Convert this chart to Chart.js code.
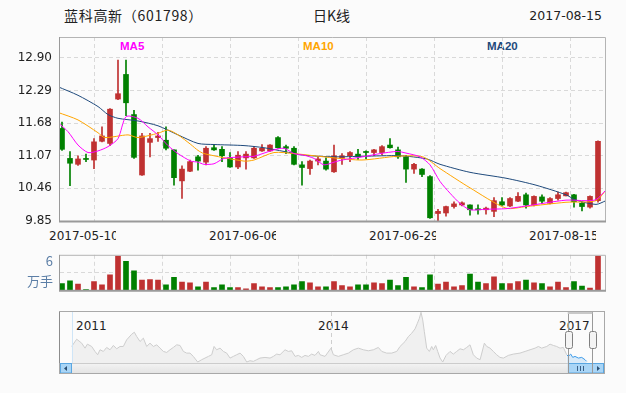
<!DOCTYPE html>
<html><head><meta charset="utf-8">
<script src="https://cdn.jsdelivr.net/npm/chart.js@4.4.0/dist/chart.umd.min.js"></script>
<style>
html,body{margin:0;padding:0;background:#fbfbfb;width:626px;height:393px;overflow:hidden;}
canvas{position:absolute;left:0;}
.t{position:absolute;white-space:nowrap;color:#222;}
.xl{position:absolute;white-space:nowrap;overflow:hidden;width:67px;top:229px;line-height:14px;font:12px "DejaVu Sans";color:#222;}
.ma{position:absolute;top:40px;line-height:13px;font:bold 11.5px "Liberation Sans";}
.yr{position:absolute;top:319px;line-height:14px;font:12px "DejaVu Sans";color:#222;}
</style></head><body>
<div class="t" style="left:64px;top:5px;line-height:20px;font:14px 'Noto Sans CJK SC';letter-spacing:0.7px;">蓝科高新（601798）</div>
<div class="t" style="left:313px;top:5px;line-height:20px;font:14px 'Noto Sans CJK SC';">日K线</div>
<div class="t" style="right:24px;top:8px;line-height:16px;font:12.5px 'DejaVu Sans';">2017-08-15</div>
<div class="ma" style="left:120px;color:#ff00ff">MA5</div>
<div class="ma" style="left:303px;color:#ffa500">MA10</div>
<div class="ma" style="left:487px;color:#1f4a7c">MA20</div>
<div id="xlabels"></div>
<div id="ylabels"></div>
<canvas id="main" width="626" height="245" style="top:0"></canvas>
<canvas id="vol" width="626" height="65" style="top:240px"></canvas>
<canvas id="nav" width="626" height="88" style="top:305px"></canvas>
<script>
// ---------------- data ----------------
const candleOpen  = [11.58,11.02,10.91,11.02,10.99,11.34,11.30,12.13,12.59,11.84,10.71,11.32,11.41,11.36,11.18,10.60,10.78,11.05,10.95,11.22,11.19,11.03,10.86,11.03,11.03,11.16,11.16,11.41,11.24,11.21,10.90,10.83,10.97,10.97,10.77,11.02,11.07,11.10,11.15,11.13,11.13,11.27,11.18,11.05,10.82,10.82,10.68,9.99,10.00,10.12,10.15,10.15,10.07,10.06,10.03,10.21,10.13,10.22,10.34,10.15,10.30,10.18,10.27,10.32,10.34,10.18,10.11,10.23];
const candleClose = [11.19,10.93,11.01,11.00,11.33,11.44,11.94,12.23,12.06,11.04,11.44,11.39,11.44,11.21,10.66,10.82,10.96,10.97,11.21,11.18,11.07,10.86,11.08,11.10,11.21,11.21,11.27,11.22,11.21,10.91,10.85,10.97,11.01,10.82,11.07,11.07,11.13,11.05,11.13,11.18,11.24,11.22,11.05,10.82,10.91,10.72,9.91,10.03,10.12,10.17,10.19,10.06,10.06,10.09,10.23,10.15,10.27,10.31,10.15,10.31,10.22,10.27,10.34,10.38,10.21,10.12,10.31,11.34];
const candleHigh  = [11.70,11.15,11.07,11.10,11.39,11.61,11.95,12.86,12.86,11.92,11.49,11.49,11.51,11.61,11.18,10.88,10.99,11.08,11.24,11.28,11.24,11.13,11.15,11.15,11.24,11.28,11.28,11.43,11.27,11.24,10.96,10.99,11.05,11.03,11.27,11.11,11.15,11.19,11.16,11.19,11.26,11.39,11.23,11.08,10.93,10.83,10.70,10.07,10.13,10.21,10.21,10.15,10.15,10.11,10.29,10.29,10.29,10.38,10.37,10.32,10.34,10.29,10.39,10.39,10.35,10.21,10.32,11.35];
const candleLow   = [11.17,10.51,10.89,10.96,10.83,11.33,11.26,12.12,11.82,11.02,10.70,11.05,11.34,11.18,10.52,10.27,10.77,10.80,10.90,11.17,10.96,10.85,10.83,10.82,11.02,11.15,11.15,11.21,11.11,10.90,10.52,10.72,10.90,10.80,10.76,10.91,10.96,11.00,11.01,11.07,11.08,11.21,11.02,10.57,10.74,10.68,9.90,9.85,9.94,10.09,10.13,9.96,9.98,9.98,9.93,10.14,10.12,10.21,10.09,10.13,10.18,10.17,10.24,10.32,10.11,10.04,10.09,10.20];
// volume in 万手
const volume = [1.39,1.95,1.26,0.14,1.81,1.12,3.21,7.11,6.00,4.04,2.09,2.23,2.09,1.12,2.65,1.67,1.53,0.70,1.67,0.56,1.12,0.56,0.56,0.28,1.39,0.70,0.56,0.56,0.70,1.12,1.81,1.53,0.70,0.70,1.81,0.98,0.70,1.12,1.12,1.53,1.39,2.09,0.98,2.65,0.70,0.56,3.21,1.26,1.67,0.70,0.98,3.35,1.67,1.39,2.79,1.39,1.39,1.81,2.09,1.53,1.39,0.70,1.67,0.56,1.81,0.84,0.42,7.11];
// moving averages (candle index -> price)
const ma5Idx  = [-0.5,0.75,2,3.25,4.5,5.75,7,8,9.5,10.75,12,13.25,14.5,16.1,17,17.75,19,20.25,22.75,24,26.5,27.75,29,30.25,31.5,32.75,34,35,37.6,39.75,41.9,43,44.75,46,47.25,48.5,49.75,51,53,55.5,58,63,65.5,66.75,68];
const ma5     = [11.69,11.52,11.27,11.13,11.16,11.24,11.39,11.80,11.77,11.61,11.46,11.26,11.11,10.97,10.95,10.91,10.92,11.02,11.05,11.06,11.18,11.21,11.11,11.08,11.02,10.90,10.95,10.99,11.05,11.11,11.15,11.12,11.05,10.90,10.59,10.37,10.18,10.06,10.07,10.08,10.13,10.24,10.23,10.25,10.43];
const ma10Idx = [-0.5,2,4.5,5.33,8.25,9.5,12,13.25,14.5,16.1,17,17.75,22.75,24,26.5,29,31.5,34,37.5,41.9,45.1,47.25,51,55.5,58,63,66.75,68];
const ma10    = [11.88,11.74,11.50,11.41,11.46,11.41,11.49,11.55,11.46,11.28,11.17,11.11,10.97,10.99,11.13,11.11,11.07,11.03,10.99,11.06,11.05,10.83,10.47,10.09,10.12,10.20,10.23,10.43];
const ma20Idx = [-0.5,2,4.5,5.75,7,9.5,12,14.5,17,19,22.75,25.25,27.75,30.25,34,37.6,42.25,45.6,47.25,51,55.5,59.25,63,64.25,66.75,68];
const ma20    = [12.36,12.20,11.99,11.84,11.77,11.72,11.63,11.46,11.30,11.28,11.26,11.22,11.15,11.08,11.05,11.06,11.07,11.01,10.91,10.76,10.65,10.52,10.34,10.24,10.16,10.23];
const priceTicks = [9.85,10.46,11.07,11.68,12.29,12.90];
const dateLabels = ['2017-05-10','2017-06-06','2017-06-29','2017-08-15'];
// navigator: long history (year -> price)
const navYear  = [2010.798,2010.860,2010.922,2010.963,2010.992,2011.045,2011.086,2011.119,2011.148,2011.189,2011.230,2011.272,2011.313,2011.354,2011.395,2011.436,2011.477,2011.539,2011.572,2011.601,2011.642,2011.683,2011.724,2011.765,2011.807,2011.848,2011.889,2011.930,2011.971,2012.012,2012.053,2012.095,2012.136,2012.177,2012.218,2012.259,2012.300,2012.354,2012.403,2012.444,2012.486,2012.527,2012.556,2012.588,2012.630,2012.671,2012.712,2012.753,2012.794,2012.835,2012.877,2012.918,2012.959,2013.000,2013.041,2013.082,2013.123,2013.185,2013.247,2013.288,2013.329,2013.370,2013.432,2013.473,2013.514,2013.556,2013.597,2013.638,2013.679,2013.720,2013.761,2013.802,2013.844,2013.864,2013.926,2014.000,2014.029,2014.090,2014.152,2014.214,2014.276,2014.337,2014.399,2014.461,2014.523,2014.584,2014.626,2014.687,2014.749,2014.811,2014.852,2014.914,2014.955,2014.996,2015.037,2015.066,2015.091,2015.111,2015.132,2015.152,2015.181,2015.214,2015.243,2015.263,2015.292,2015.317,2015.346,2015.379,2015.420,2015.469,2015.510,2015.551,2015.593,2015.634,2015.675,2015.716,2015.757,2015.798,2015.840,2015.893,2015.922,2015.963,2016.004,2016.045,2016.086,2016.128,2016.189,2016.251,2016.333,2016.395,2016.457,2016.519,2016.560,2016.601,2016.663,2016.704,2016.745,2016.786,2016.827,2016.868,2016.910];
const navPrice = [16.32,19.98,17.98,15.48,17.48,16.32,13.82,12.15,14.65,13.82,15.82,14.65,16.82,15.15,16.32,16.32,19.65,22.48,23.48,21.32,18.82,20.48,16.32,17.98,16.32,17.15,15.48,13.82,13.32,14.65,15.82,17.15,16.82,13.82,12.98,12.98,11.32,8.48,9.65,10.48,11.32,12.15,16.32,14.65,15.48,13.82,12.98,10.48,11.32,12.15,12.98,11.32,8.48,9.15,8.82,9.65,10.48,10.82,10.48,11.32,12.48,12.15,14.65,13.82,14.15,11.32,11.82,10.82,11.82,11.32,12.48,11.82,13.82,12.15,11.32,15.48,12.15,11.32,12.15,12.98,14.65,15.48,14.65,14.15,14.65,15.82,13.82,12.98,12.98,13.82,16.32,18.82,21.32,22.98,25.15,27.98,30.48,33.48,29.65,23.82,15.48,13.82,16.32,14.65,16.82,13.82,10.48,8.48,11.82,13.82,12.48,13.82,15.15,14.65,15.82,17.15,12.15,10.48,9.65,17.98,16.32,15.48,13.82,12.15,10.82,10.48,11.82,12.48,12.98,13.82,14.65,15.48,16.32,15.48,16.32,17.48,16.82,16.32,15.48,15.82,12.15];
const navSelYear  = [2016.910,2016.930,2016.959,2016.984,2017.012,2017.054,2017.095,2017.136,2017.156];
const navSelPrice = [12.15,11.32,12.48,10.82,11.32,10.48,10.82,9.65,8.82];
const navWindow = [2016.922, 2017.226];
const navYears = ['2011','2014','2017'];

// ---------------- styling helpers ----------------
const UP = '#bf3131', DOWN = '#008000';
const N = candleOpen.length;
const candleColor = candleOpen.map((o,i)=> candleClose[i] >= o ? UP : DOWN);
const xMin = -0.25, xMax = N - 0.125;
const xGrid = [1,2,3,4,5,6,7].map(k => xMin + k*(xMax-xMin)/8);
const GRID = '#d9d9d9';

const xl = document.getElementById('xlabels');
dateLabels.forEach((d,k)=>{ const e=document.createElement('div'); e.className='xl'; e.style.left=(49+160*k)+'px'; e.textContent=d; xl.appendChild(e); });
const yl = document.getElementById('ylabels');
navYears.forEach((y,k)=>{ const e=document.createElement('div'); e.className='yr'; e.style.left=[76,318,559][k]+'px'; e.textContent=y; yl.appendChild(e); });

function framePlugin(id){
  return { id, afterDraw(chart){
    const {ctx, chartArea:a} = chart;
    ctx.save();
    ctx.strokeStyle = '#b4b4b4'; ctx.lineWidth = 1;
    ctx.beginPath(); ctx.moveTo(a.left, a.top+0.5); ctx.lineTo(a.right+0.5, a.top+0.5); ctx.lineTo(a.right+0.5, a.bottom); ctx.stroke();
    ctx.strokeStyle = '#9a9a9a';
    ctx.beginPath(); ctx.moveTo(a.left-0.5, a.top); ctx.lineTo(a.left-0.5, a.bottom); ctx.stroke();
    ctx.lineWidth = 2;
    ctx.beginPath(); ctx.moveTo(a.left-1, a.bottom+0.5); ctx.lineTo(a.right+1, a.bottom+0.5); ctx.stroke();
    ctx.restore();
  }};
}

const commonX = {
  type:'linear', min:xMin, max:xMax, offset:false,
  afterBuildTicks: s => { s.ticks = xGrid.map(v=>({value:v})); },
  afterFit: s => { s.height = 0; },
  ticks:{display:false},
  grid:{color:GRID, drawTicks:false},
  border:{display:false, dash:[4,3]}
};

function maSet(label, idx, vals, color){
  return {type:'line', label, data: idx.map((x,k)=>({x, y: vals[k]})), borderColor: color, borderWidth:1,
          pointRadius:0, tension:0.25, fill:false, order:0};
}

new Chart(document.getElementById('main'), {
  type:'bar',
  data:{datasets:[
    maSet('MA5', ma5Idx, ma5, '#ff00ff'),
    maSet('MA10', ma10Idx, ma10, '#ffa500'),
    maSet('MA20', ma20Idx, ma20, '#1f4a7c'),
    {type:'bar', label:'wick', data: candleHigh.map((h,i)=>({x:i, y:[candleLow[i], h]})),
     backgroundColor: candleColor, barThickness:1, grouped:false, borderWidth:0, order:2},
    {type:'bar', label:'body', data: candleOpen.map((o,i)=>({x:i, y:[o, candleClose[i]]})),
     backgroundColor: candleColor, barThickness:5, grouped:false, borderWidth:0, minBarLength:1, order:1}
  ]},
  options:{
    responsive:false, animation:false, events:[],
    layout:{padding:{left:0, right:21, top:37, bottom:24}},
    plugins:{legend:{display:false}, tooltip:{enabled:false}},
    scales:{
      x: commonX,
      y:{min:9.85, max:13.29,
         afterBuildTicks: s => { s.ticks = priceTicks.map(v=>({value:v})); },
         afterFit: s => { s.width = 60; },
         ticks:{callback: v => Number(v).toFixed(2), color:'#222', font:{family:'DejaVu Sans', size:12}, padding:8},
         grid:{color:GRID, drawTicks:false},
         border:{display:false, dash:[4,3]}}
    }
  },
  plugins:[framePlugin('frameMain')]
});

const volTicks = [1.85, 3.675, 6];
new Chart(document.getElementById('vol'), {
  type:'bar',
  data:{datasets:[
    {label:'volume', data: volume.map((v,i)=>({x:i, y:v})), backgroundColor: candleColor, barThickness:5, borderWidth:0}
  ]},
  options:{
    responsive:false, animation:false, events:[],
    layout:{padding:{left:0, right:21, top:7, bottom:5}},
    plugins:{legend:{display:false}, tooltip:{enabled:false}},
    scales:{
      x: commonX,
      y:{min:0, max:7.35,
         afterBuildTicks: s => { s.ticks = volTicks.map(v=>({value:v})); },
         afterFit: s => { s.width = 60; },
         ticks:{callback: v => v===6 ? '6' : (v===1.85 ? '万手' : ''), color:'#5b7ea6',
                font:{family:'Noto Sans CJK SC', size:13}, padding:7},
         grid:{color: c => (c.tick && c.tick.value===3.675) ? GRID : 'rgba(0,0,0,0)', drawTicks:false},
         border:{display:false, dash:[4,3]}}
    }
  },
  plugins:[framePlugin('frameVol')]
});

const navPlugin = { id:'navDeco', afterDraw(chart){
  const {ctx, chartArea:a, scales:{x}} = chart;
  const L=a.left, R=a.right, T=a.top, B=a.bottom, H=10;
  ctx.save();
  const g = ctx.createLinearGradient(0,B,0,B+H); g.addColorStop(0,'#f4f4f4'); g.addColorStop(1,'#e4e4e4');
  ctx.fillStyle = g; ctx.fillRect(L, B, R-L, H);
  ctx.strokeStyle = '#cccccc'; ctx.lineWidth = 1;
  ctx.beginPath(); ctx.moveTo(L, B+0.5); ctx.lineTo(R, B+0.5); ctx.stroke();
  ctx.strokeStyle = '#cfe5f7';
  ctx.beginPath(); ctx.moveTo(L+12.5, T); ctx.lineTo(L+12.5, B); ctx.stroke();
  const w0 = x.getPixelForValue(navWindow[0]), w1 = x.getPixelForValue(navWindow[1]);
  function blueBox(x0, x1){
    ctx.fillStyle = '#a9d5f6'; ctx.fillRect(x0, B+0.5, x1-x0, H);
    ctx.strokeStyle = '#5aa7e2'; ctx.strokeRect(Math.round(x0)+0.5, B+0.5, Math.round(x1-x0)-1, H-0.5);
  }
  blueBox(L, L+12);
  blueBox(R-12, R);
  ctx.fillStyle = '#2b4f73';
  ctx.beginPath(); ctx.moveTo(L+4, B+5.5); ctx.lineTo(L+7, B+3); ctx.lineTo(L+7, B+8); ctx.closePath(); ctx.fill();
  ctx.beginPath(); ctx.moveTo(R-4, B+5.5); ctx.lineTo(R-7, B+3); ctx.lineTo(R-7, B+8); ctx.closePath(); ctx.fill();
  blueBox(w0, w1);
  const mid = Math.round((w0+w1)/2);
  ctx.strokeStyle = '#3a5f86';
  [-3,0,3].forEach(d=>{ ctx.beginPath(); ctx.moveTo(mid+d+0.5, B+3); ctx.lineTo(mid+d+0.5, B+8); ctx.stroke(); });
  ctx.strokeStyle = '#999';
  [w0,w1].forEach(p=>{ ctx.beginPath(); ctx.moveTo(Math.round(p)+0.5, T); ctx.lineTo(Math.round(p)+0.5, B+H); ctx.stroke(); });
  ctx.lineWidth = 2; ctx.strokeStyle = '#c8c8c8';
  ctx.beginPath(); ctx.moveTo(w0, T+1); ctx.lineTo(w1, T+1); ctx.stroke();
  ctx.lineWidth = 1;
  [w0,w1].forEach(p=>{
    const hx = Math.round(p)-3+0.5, hy = T+19.5;
    ctx.fillStyle = '#f4f4f4'; ctx.strokeStyle = '#808080';
    ctx.beginPath(); ctx.roundRect(hx, hy, 7, 17, 2); ctx.fill(); ctx.stroke();
  });
  ctx.strokeStyle = '#a8a8a8';
  ctx.strokeRect(L-0.5, T-0.5, R-L+1, B+H-T+1);
  ctx.strokeStyle = '#8c8c8c';
  ctx.beginPath(); ctx.moveTo(L-0.5, T); ctx.lineTo(L-0.5, B); ctx.stroke();
  ctx.restore();
}};

new Chart(document.getElementById('nav'), {
  type:'line',
  data:{datasets:[
    {label:'history', data: navYear.map((x,k)=>({x, y:navPrice[k]})), borderColor:'#cdcdcd', backgroundColor:'#f0f0f0',
     fill:'start', borderWidth:1, pointRadius:0, tension:0},
    {label:'selected', data: navSelYear.map((x,k)=>({x, y:navSelPrice[k]})), borderColor:'#3d9be9', backgroundColor:'rgba(190,220,245,0.55)',
     fill:'start', borderWidth:1, pointRadius:0, tension:0}
  ]},
  options:{
    responsive:false, animation:false, events:[],
    layout:{padding:{left:60, right:22, top:7, bottom:30}},
    plugins:{legend:{display:false}, tooltip:{enabled:false}},
    scales:{
      x:{type:'linear', min:2010.654, max:2017.370,
         afterBuildTicks: s => { s.ticks = [{value:2014}]; },
         afterFit: s => { s.height = 0; },
         ticks:{display:false},
         grid:{color:'#cfcfcf', drawTicks:false},
         border:{display:false, dash:[4,3]}},
      y:{display:false, min:8, max:33.65}
    }
  },
  plugins:[navPlugin]
});
</script>
</body></html>
